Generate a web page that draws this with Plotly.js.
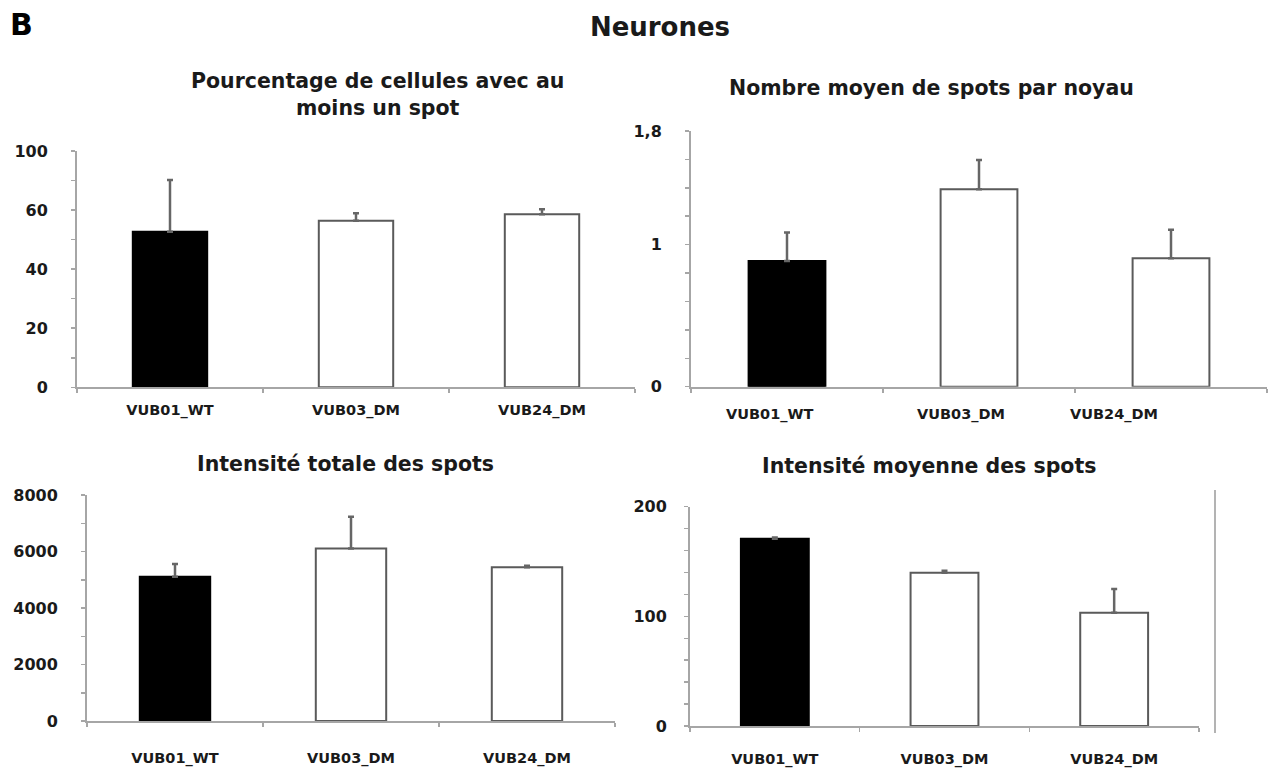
<!DOCTYPE html>
<html>
<head>
<meta charset="utf-8">
<script src="https://cdn.plot.ly/plotly-3.0.1.min.js"></script>
<style>
html,body{margin:0;padding:0;background:#fff;}
#chart{width:1272px;height:770px;}
</style>
</head>
<body>
<div id="chart"></div>
<script>
// ---------- data ----------
const categories = ['VUB01_WT', 'VUB03_DM', 'VUB24_DM'];

const pctValues   = [52.7, 56.4, 58.6];
const pctErrors   = [17.5, 2.5, 1.7];
const pctTickVals = [0, 10, 20, 30, 40, 50, 60, 70, 80];
const pctTickText = ['0', '', '20', '', '40', '', '60', '', '100'];

const spotValues   = [0.885, 1.39, 0.904];
const spotErrors   = [0.20, 0.205, 0.20];
const spotTickVals = [0, 0.2, 0.4, 0.6, 0.8, 1, 1.2, 1.4, 1.6, 1.8];
const spotTickText = ['0', '', '', '', '', '1', '', '', '', '1,8'];

const totalValues   = [5110, 6110, 5440];
const totalErrors   = [450, 1120, 60];
const totalTickVals = [0, 1000, 2000, 3000, 4000, 5000, 6000, 7000, 8000];
const totalTickText = ['0', '', '2000', '', '4000', '', '6000', '', '8000'];

const meanValues   = [170.8, 139.8, 103.3];
const meanErrors   = [1.2, 1.8, 21.6];
const meanTickVals = [0, 20, 40, 60, 80, 100, 120, 140, 160, 180, 200];
const meanTickText = ['0', '', '', '', '', '100', '', '', '', '', '200'];

const titles = {
  main: 'Neurones',
  panel: 'B',
  pct: 'Pourcentage de cellules avec au<br>moins un spot',
  spot: 'Nombre moyen de spots par noyau',
  total: 'Intensité totale des spots',
  mean: 'Intensité moyenne des spots'
};

// ---------- styles ----------
const FONT = 'DejaVu Sans, Verdana, sans-serif';
const TXT = '#1a1a1a';
const AXC = '#a6a6a6';
const fills = ['#000000', '#ffffff', '#ffffff'];
const outlines = ['#000000', '#5a5a5a', '#5a5a5a'];
const W = 1272, H = 770;
const px = v => v / W;
const py = v => 1 - v / H;

function barTrace(vals, errs, xa, ya) {
  return {
    type: 'bar', x: categories, y: vals, xaxis: xa, yaxis: ya,
    width: 0.4,
    marker: {color: fills, line: {color: outlines, width: 2}},
    error_y: {type: 'data', symmetric: false, array: errs, arrayminus: errs.map(() => 0),
              color: '#666666', thickness: 2.5, width: 3},
    hoverinfo: 'skip', showlegend: false
  };
}

function yAxis(domain, range, tv, tt, anchor, standoff) {
  return {
    domain: domain, range: range, anchor: anchor,
    tickmode: 'array', tickvals: tv, ticktext: tt,
    ticks: 'outside', ticklen: 4, tickcolor: AXC, tickwidth: 1.5,
    showline: true, linecolor: AXC, linewidth: 2,
    showgrid: false, zeroline: false,
    ticklabelstandoff: standoff,
    tickfont: {family: FONT, size: 16, color: TXT, weight: 'bold'}
  };
}
function xAxis(domain, anchor, standoff, showLabels) {
  return {
    domain: domain, anchor: anchor, type: 'category',
    range: [-0.5, 2.5],
    ticks: 'outside', tickson: 'boundaries', ticklen: 4, tickcolor: AXC, tickwidth: 1.5,
    showline: true, linecolor: AXC, linewidth: 2,
    showgrid: false, zeroline: false,
    showticklabels: showLabels,
    ticklabelstandoff: standoff,
    tickfont: {family: FONT, size: 14.5, color: TXT, weight: 'bold'}
  };
}

const data = [
  barTrace(pctValues, pctErrors, 'x', 'y'),
  barTrace(spotValues, spotErrors, 'x2', 'y2'),
  barTrace(totalValues, totalErrors, 'x3', 'y3'),
  barTrace(meanValues, meanErrors, 'x4', 'y4')
];

function titleAnn(text, x, y) {
  return {text: text, xref: 'paper', yref: 'paper', x: px(x), y: py(y),
          xanchor: 'center', yanchor: 'middle', showarrow: false,
          font: {family: FONT, size: 20.5, color: TXT, weight: 'bold'}};
}

// panel 2 category labels (drawn as annotations, offset like the reference)
const spotLabelShift = [-18, -18, -57];
const spotLabels = categories.map((c, i) => ({
  text: c, xref: 'x2', yref: 'y2', x: c, y: 0, yshift: -28, xshift: spotLabelShift[i],
  xanchor: 'center', yanchor: 'middle', showarrow: false,
  font: {family: FONT, size: 14.5, color: TXT, weight: 'bold'}
}));

const layout = {
  width: W, height: H,
  margin: {l: 0, r: 0, t: 0, b: 0},
  paper_bgcolor: '#ffffff', plot_bgcolor: 'rgba(0,0,0,0)',
  title: {text: titles.main, x: px(660), y: py(27), xanchor: 'center', yanchor: 'middle',
          xref: 'paper', yref: 'paper',
          font: {family: FONT, size: 26, color: TXT, weight: 'bold'}},
  bargap: 0.6,
  xaxis:  xAxis([px(77), px(635)], 'y', 8, true),
  yaxis:  yAxis([py(387.3), py(151)], [0, 80], pctTickVals, pctTickText, 'x', 20),
  xaxis2: xAxis([px(691), px(1267)], 'y2', 15, false),
  yaxis2: yAxis([py(386.7), py(131)], [0, 1.8], spotTickVals, spotTickText, 'x2', 20),
  xaxis3: xAxis([px(87), px(615)], 'y3', 23, true),
  yaxis3: yAxis([py(721), py(495)], [0, 8000], totalTickVals, totalTickText, 'x3', 20),
  xaxis4: xAxis([px(690), px(1199)], 'y4', 19, true),
  yaxis4: yAxis([py(726), py(506.7)], [0, 200], meanTickVals, meanTickText, 'x4', 14),
  annotations: [
    {text: titles.panel, xref: 'paper', yref: 'paper', x: px(8), y: py(25),
     xanchor: 'left', yanchor: 'middle', showarrow: false,
     font: {family: FONT, size: 30, color: '#000', weight: 'bold'}},
    titleAnn(titles.pct, 377, 94),
    titleAnn(titles.spot, 931, 88),
    titleAnn(titles.total, 345, 464),
    titleAnn(titles.mean, 929, 466)
  ].concat(spotLabels),
  shapes: [
    {type: 'line', xref: 'paper', yref: 'paper', x0: px(1215), x1: px(1215), y0: py(490), y1: py(733),
     line: {color: '#b3b3b3', width: 2}}
  ]
};

Plotly.newPlot('chart', data, layout, {staticPlot: true, displayModeBar: false});
</script>
</body>
</html>
